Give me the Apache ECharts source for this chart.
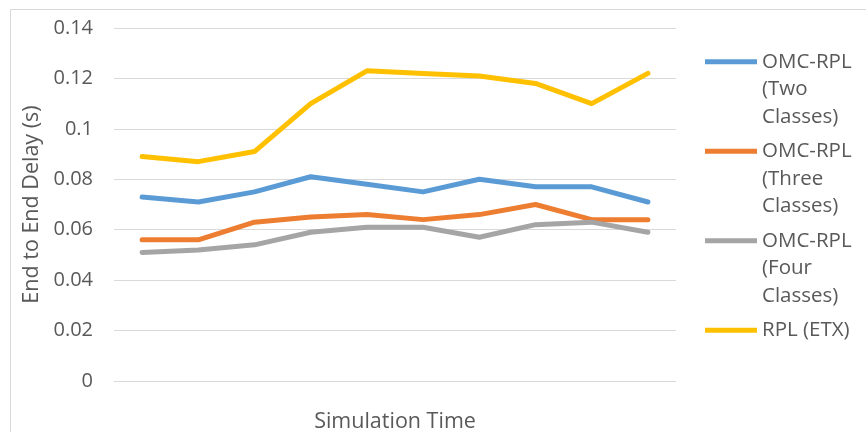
<!DOCTYPE html>
<html>
<head>
<meta charset="utf-8">
<script src="https://cdn.jsdelivr.net/npm/echarts@6/dist/echarts.min.js"></script>
<style>
  html, body { margin: 0; padding: 0; background: #fff; }
  #main { width: 866px; height: 432px; }
</style>
</head>
<body>
<div id="main"></div>
<script>
// simulation time steps (no labels shown on the axis)
const steps = ['1', '2', '3', '4', '5', '6', '7', '8', '9', '10'];

const twoClasses = [0.073, 0.071, 0.075, 0.081, 0.078, 0.075, 0.080, 0.077, 0.077, 0.071];
const threeClasses = [0.056, 0.056, 0.063, 0.065, 0.066, 0.064, 0.066, 0.070, 0.064, 0.064];
const fourClasses = [0.051, 0.052, 0.054, 0.059, 0.061, 0.061, 0.057, 0.062, 0.063, 0.059];
const rplEtx = [0.089, 0.087, 0.091, 0.110, 0.123, 0.122, 0.121, 0.118, 0.110, 0.122];

const seriesNames = ['OMC-RPL (Two Classes)', 'OMC-RPL (Three Classes)', 'OMC-RPL (Four Classes)', 'RPL (ETX)'];
const legendText = {
  'OMC-RPL (Two Classes)': 'OMC-RPL\n(Two\nClasses)',
  'OMC-RPL (Three Classes)': 'OMC-RPL\n(Three\nClasses)',
  'OMC-RPL (Four Classes)': 'OMC-RPL\n(Four\nClasses)',
  'RPL (ETX)': 'RPL (ETX)\n \n '
};
const colors = ['#5B9BD5', '#ED7D31', '#A5A5A5', '#FFC000'];

const font = '"Open Sans", "Noto Sans", sans-serif';
const textColor = '#595959';

function lineSeries(name, values, color) {
  return {
    name: name,
    type: 'line',
    data: values,
    symbol: 'none',
    color: color,
    lineStyle: { width: 5, color: color, cap: 'round', join: 'round' },
    emphasis: { disabled: true }
  };
}

const chart = echarts.init(document.getElementById('main'));
chart.setOption({
  animation: false,
  color: colors,
  graphic: [{
    type: 'rect',
    shape: { x: 10.5, y: 9.5, width: 900, height: 500 },
    style: { fill: 'none', stroke: '#D9D9D9', lineWidth: 1 },
    silent: true
  }],
  grid: { left: 114, right: 190, top: 28, bottom: 51, outerBoundsMode: 'none' },
  legend: {
    orient: 'vertical',
    left: 705,
    top: 48,
    padding: 0,
    itemWidth: 52,
    itemHeight: 82,
    itemGap: 7,
    icon: 'path://M0,0L1,0M0,11L52,11L52,16L0,16ZM0,82L1,82',
    itemStyle: { borderWidth: 0 },
    data: seriesNames,
    formatter: function (name) { return legendText[name]; },
    textStyle: { fontFamily: font, fontSize: 20.5, color: textColor, lineHeight: 27.5 }
  },
  xAxis: {
    type: 'category',
    data: steps,
    boundaryGap: true,
    name: 'Simulation Time',
    nameLocation: 'middle',
    nameGap: 30,
    nameTextStyle: { fontFamily: font, fontSize: 21.5, color: textColor },
    axisLine: { show: true, lineStyle: { color: '#D9D9D9', width: 1 } },
    axisTick: { show: false },
    axisLabel: { show: false }
  },
  yAxis: {
    type: 'value',
    min: 0,
    max: 0.14,
    interval: 0.02,
    name: 'End to End Delay (s)',
    nameLocation: 'middle',
    nameGap: 69,
    nameTextStyle: { fontFamily: font, fontSize: 21.5, color: textColor },
    axisLine: { show: false },
    axisTick: { show: false },
    axisLabel: { fontFamily: font, fontSize: 20, color: textColor, margin: 21 },
    splitLine: { lineStyle: { color: '#D9D9D9', width: 1 } }
  },
  series: [
    lineSeries(seriesNames[0], twoClasses, colors[0]),
    lineSeries(seriesNames[1], threeClasses, colors[1]),
    lineSeries(seriesNames[2], fourClasses, colors[2]),
    lineSeries(seriesNames[3], rplEtx, colors[3])
  ]
});
</script>
</body>
</html>
